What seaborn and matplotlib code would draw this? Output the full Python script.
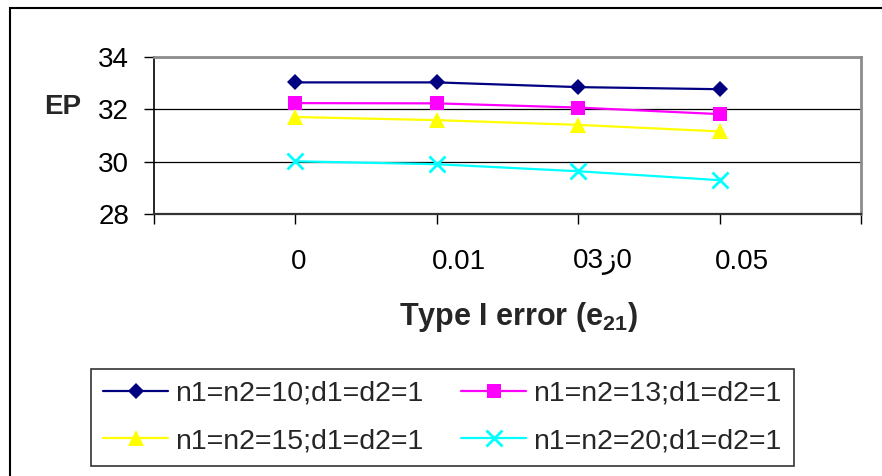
import matplotlib
matplotlib.use("Agg")
import matplotlib.pyplot as plt
import matplotlib.transforms as mtransforms
from matplotlib.patches import Rectangle
import pandas as pd
import seaborn as sns

# Type I error levels (category labels on the x axis)
error_levels = ["0", "0.01", "03ز0", "0.05"]

# EP for each sample-size setting
series_names = [
    "n1=n2=10;d1=d2=1",
    "n1=n2=13;d1=d2=1",
    "n1=n2=15;d1=d2=1",
    "n1=n2=20;d1=d2=1",
]
ep_n10 = [33.02, 33.02, 32.84, 32.76]
ep_n13 = [32.23, 32.22, 32.06, 31.81]
ep_n15 = [31.70, 31.58, 31.40, 31.15]
ep_n20 = [30.01, 29.90, 29.63, 29.29]

y_ticks = [28, 30, 32, 34]

sns.set_theme(style="white")
plt.rcParams["font.family"] = ["Liberation Sans", "DejaVu Sans"]
plt.rcParams["mathtext.fontset"] = "custom"
plt.rcParams["mathtext.rm"] = "Liberation Sans"
plt.rcParams["mathtext.bf"] = "Liberation Sans:bold"

df = pd.concat(
    [
        pd.DataFrame({"error": error_levels, "EP": vals, "series": name})
        for name, vals in zip(series_names, [ep_n10, ep_n13, ep_n15, ep_n20])
    ],
    ignore_index=True,
)

styles = {
    series_names[0]: dict(color="#000080", marker="D", markersize=8.5, mew=0),
    series_names[1]: dict(color="#FF00FF", marker="s", markersize=9.5, mew=0),
    series_names[2]: dict(color="#FFFF00", marker="^", markersize=11, mew=0),
    series_names[3]: dict(color="#00FFFF", marker="x", markersize=11, mew=2),
}

fig = plt.figure(figsize=(8.82, 4.76), dpi=100)
fig.patch.set_facecolor("white")
ax = fig.add_axes([154 / 882, 1 - 214 / 476, 707 / 882, 157.3 / 476])

for name in series_names:
    st = styles[name]
    sns.lineplot(
        data=df[df["series"] == name],
        x="error",
        y="EP",
        ax=ax,
        label=name,
        color=st["color"],
        marker=st["marker"],
        markersize=st["markersize"],
        markeredgewidth=st["mew"],
        markeredgecolor=st["color"],
        linewidth=1.6,
        sort=False,
    )

ax.set_ylim(28, 34)
ax.set_yticks(y_ticks)
ax.set_xlim(-1, len(error_levels))
ax.set_xticks(range(-1, len(error_levels) + 1))
ax.set_xticklabels([""] + error_levels + [""])

ax.tick_params(axis="y", which="major", left=True, length=7, width=1,
               color="black", pad=11, labelsize=20, labelcolor="black")
ax.tick_params(axis="x", which="major", bottom=True, length=7.2, width=1,
               color="black", pad=18, labelsize=20, labelcolor="black")

# shift the category labels slightly and left-align them under the ticks
shift = mtransforms.ScaledTranslation(-5 / 100, 0, fig.dpi_scale_trans)
for lbl in ax.get_xticklabels():
    lbl.set_horizontalalignment("left")
    lbl.set_transform(lbl.get_transform() + shift)

ax.yaxis.grid(True, color="black", linewidth=0.9)
ax.xaxis.grid(False)

for side in ("top", "right"):
    ax.spines[side].set_color("#8c8c8c")
    ax.spines[side].set_linewidth(2)
ax.spines["left"].set_color("black")
ax.spines["left"].set_linewidth(1.2)
ax.spines["bottom"].set_color("#333333")
ax.spines["bottom"].set_linewidth(1.6)

ax.set_ylabel("EP", rotation=0, fontsize=20, fontweight="bold",
              ha="center", va="center")
ax.yaxis.set_label_coords(-0.129, 0.68)
ax.set_xlabel(r"Type I error (e$_{\mathbf{21}}$)", fontsize=22,
              fontweight="bold")
ax.xaxis.set_label_coords(0.515, -0.545)

# legend filled row by row: 10 | 13 on top, 15 | 20 below
handles, labels = ax.get_legend_handles_labels()
order = [0, 2, 1, 3]
leg = ax.legend(
    [handles[i] for i in order],
    [labels[i] for i in order],
    loc="upper left",
    bbox_to_anchor=(91 / 882, 1 - 369 / 476),
    bbox_transform=fig.transFigure,
    ncol=2,
    fontsize=20.5,
    frameon=True,
    fancybox=False,
    shadow=False,
    edgecolor="black",
    handlelength=2.3,
    handletextpad=0.25,
    columnspacing=1.3,
    labelspacing=0.74,
    borderpad=0.42,
    borderaxespad=0,
)
leg.get_frame().set_linewidth(1.2)

# border around the whole chart area
fig.patches.append(
    Rectangle((10 / 882, -0.1), 1.0, 1.1 - 7.5 / 476,
              transform=fig.transFigure, fill=False,
              edgecolor="black", linewidth=1.5, zorder=10)
)

fig.savefig("out.png", dpi=100)
